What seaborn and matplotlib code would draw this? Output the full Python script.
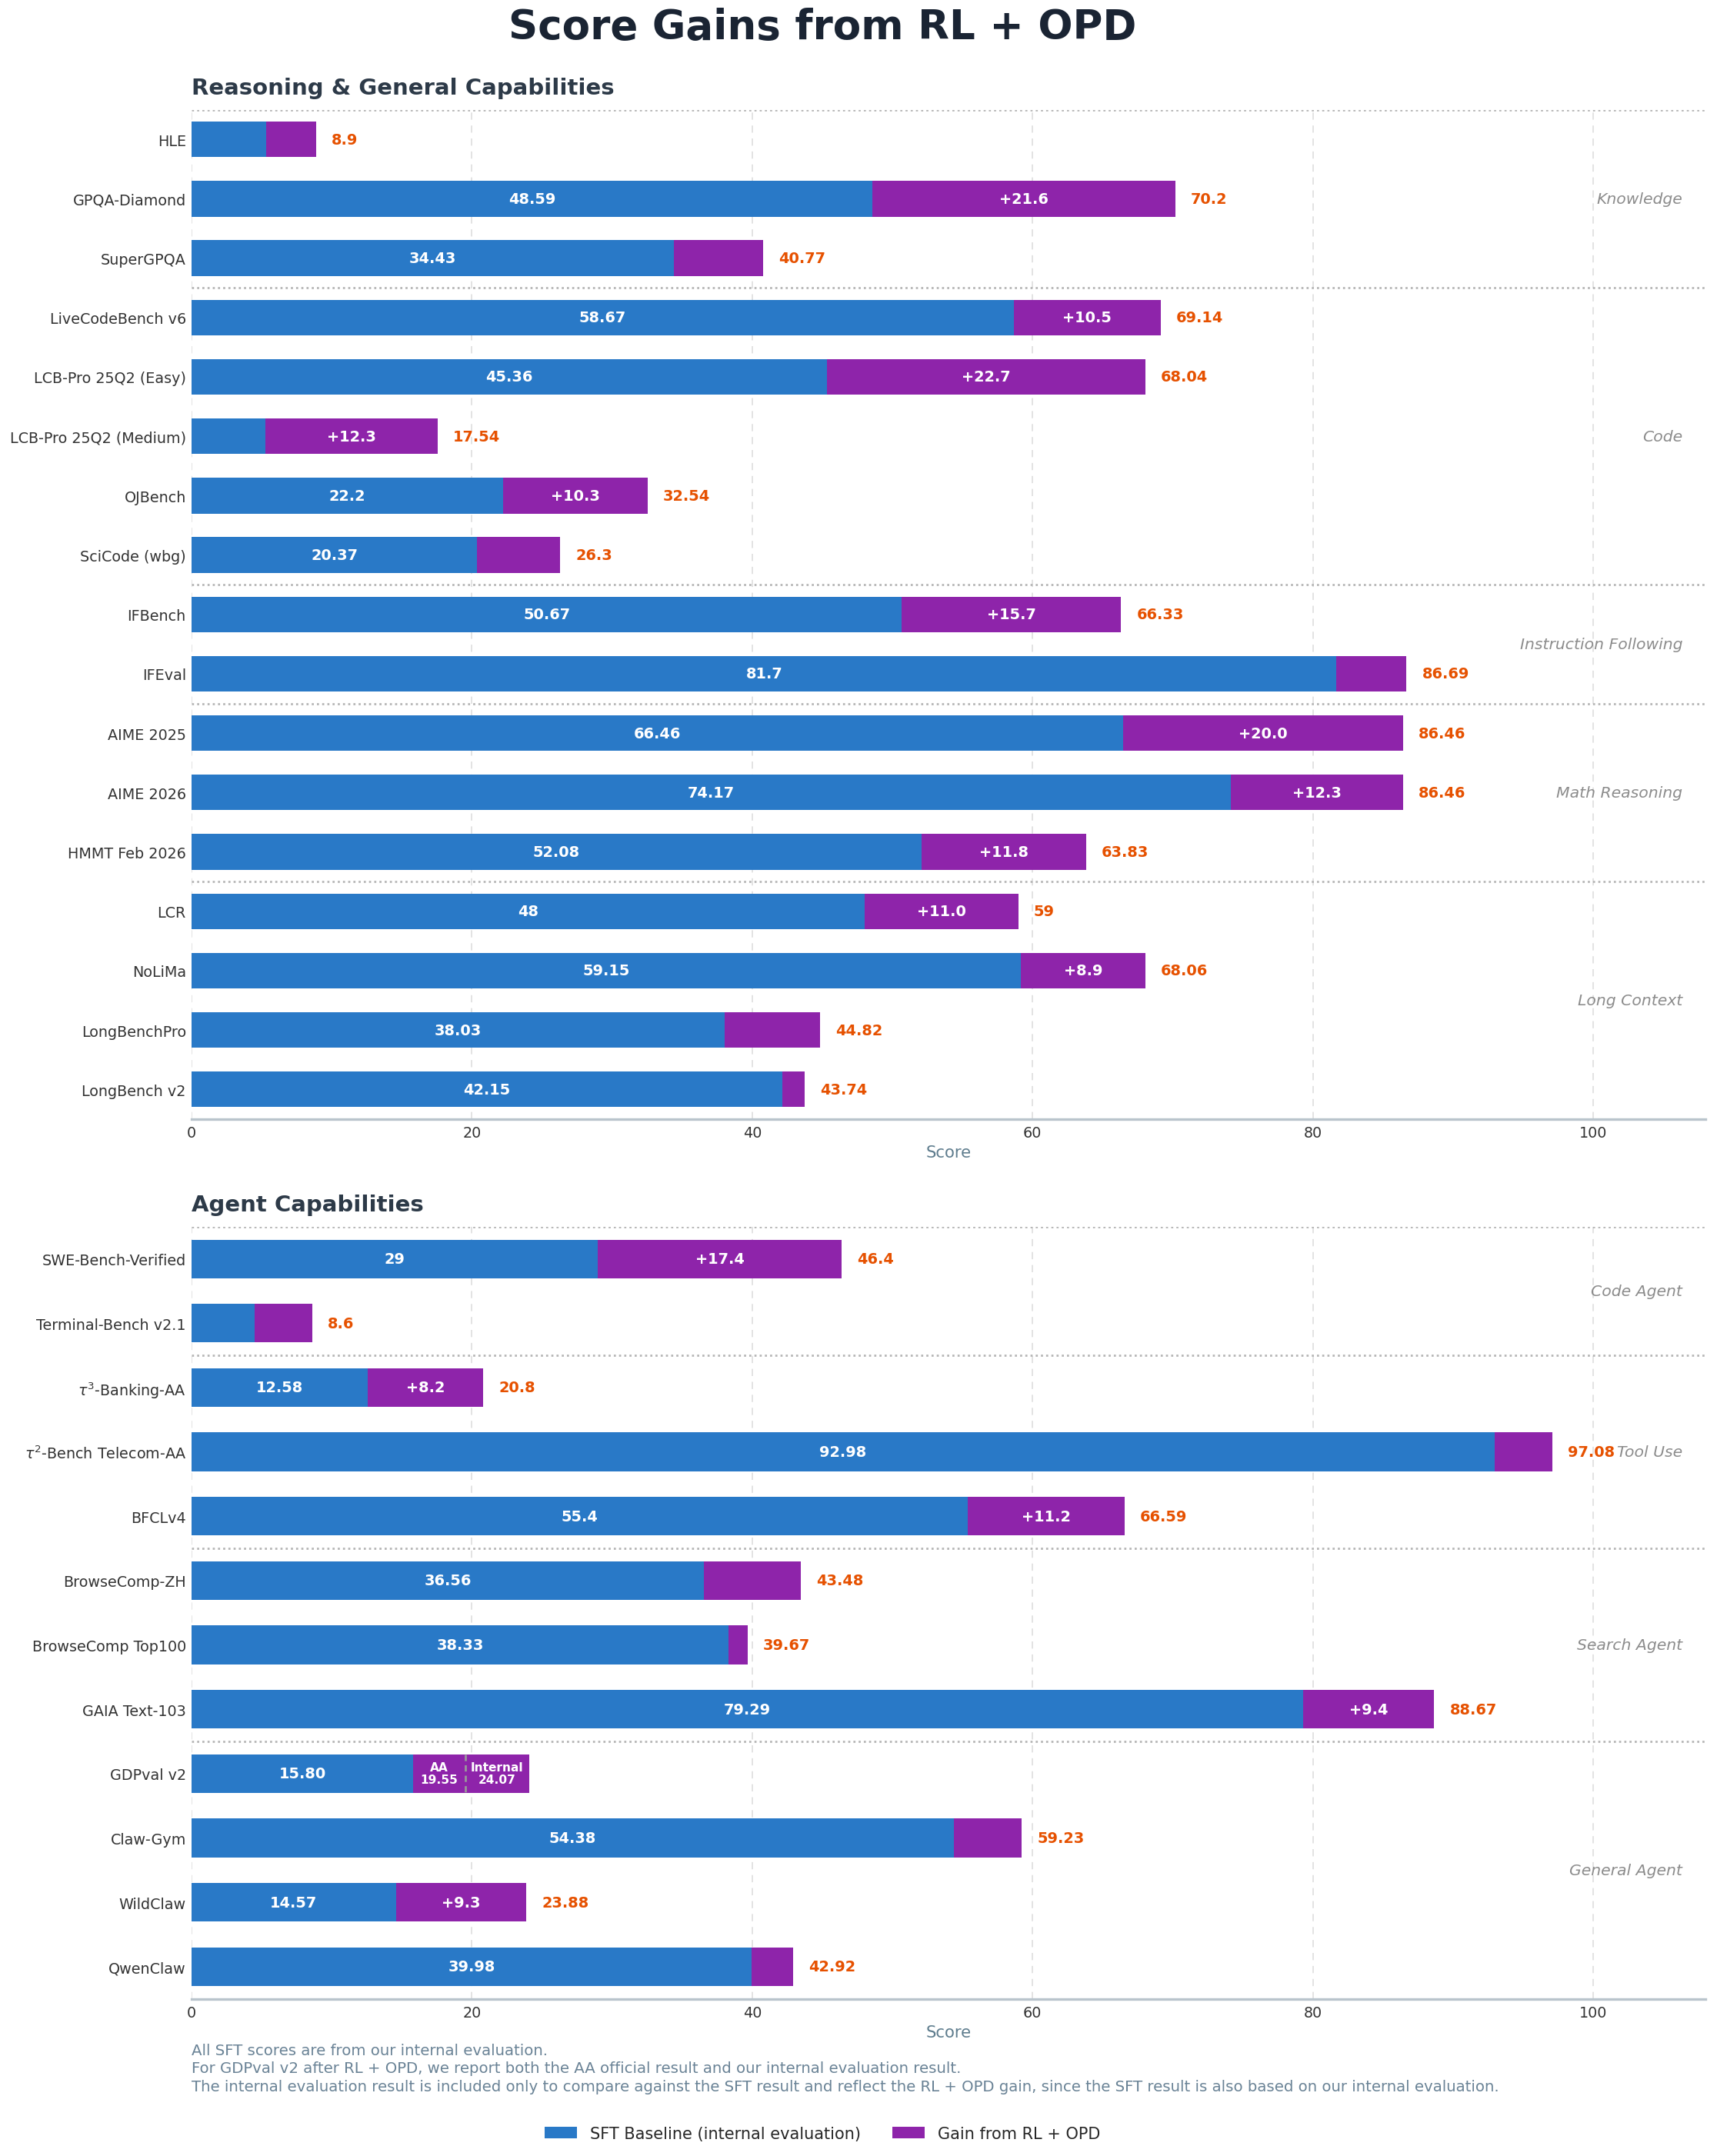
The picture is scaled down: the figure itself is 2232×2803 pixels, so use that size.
import matplotlib
matplotlib.use("Agg")
import matplotlib.pyplot as plt
import matplotlib.transforms as mtransforms
from matplotlib.patches import Patch
import seaborn as sns

sns.set_theme(style="white")
plt.rcParams['font.family'] = ['DejaVu Sans']

# Reasoning & general
reasoning_labels = ["HLE", "GPQA-Diamond", "SuperGPQA", "LiveCodeBench v6", "LCB-Pro 25Q2 (Easy)",
                    "LCB-Pro 25Q2 (Medium)", "OJBench", "SciCode (wbg)", "IFBench", "IFEval",
                    "AIME 2025", "AIME 2026", "HMMT Feb 2026", "LCR", "NoLiMa", "LongBenchPro", "LongBench v2"]
reasoning_sft = [5.3, 48.59, 34.43, 58.67, 45.36, 5.24, 22.2, 20.37, 50.67, 81.7,
                 66.46, 74.17, 52.08, 48, 59.15, 38.03, 42.15]
reasoning_final = [8.9, 70.2, 40.77, 69.14, 68.04, 17.54, 32.54, 26.3, 66.33, 86.69,
                   86.46, 86.46, 63.83, 59, 68.06, 44.82, 43.74]
reasoning_groups = ["Knowledge"] * 3 + ["Code"] * 5 + ["Instruction Following"] * 2 + \
                   ["Math Reasoning"] * 3 + ["Long Context"] * 4

# Agent
agent_labels = ["SWE-Bench-Verified", "Terminal-Bench v2.1", r"$\tau^3$-Banking-AA",
                r"$\tau^2$-Bench Telecom-AA", "BFCLv4", "BrowseComp-ZH", "BrowseComp Top100",
                "GAIA Text-103", "GDPval v2", "Claw-Gym", "WildClaw", "QwenClaw"]
agent_sft = [29, 4.5, 12.58, 92.98, 55.4, 36.56, 38.33, 79.29, 15.80, 54.38, 14.57, 39.98]
agent_final = [46.4, 8.6, 20.8, 97.08, 66.59, 43.48, 39.67, 88.67, 24.07, 59.23, 23.88, 42.92]
agent_groups = ["Code Agent"] * 2 + ["Tool Use"] * 3 + ["Search Agent"] * 3 + ["General Agent"] * 4

gdpval_aa = 19.55
gdpval_internal = 24.07

BLUE = "#2979c7"
PURPLE = "#8e24aa"
ORANGE = "#e65100"
MIN_LABEL = 8

fig = plt.figure(figsize=(14.88, 18.693), dpi=150)


def draw_panel(ax, labels, sft, final, groups, title):
    sns.barplot(x=final, y=labels, orient='h', color=PURPLE, saturation=1, width=0.6,
                linewidth=0, ax=ax, zorder=2)
    sns.barplot(x=sft, y=labels, orient='h', color=BLUE, saturation=1, width=0.6,
                linewidth=0, ax=ax, zorder=3)
    n = len(labels)
    ax.set_xlim(0, 108)
    ax.set_ylim(n - 0.5, -0.5)
    ax.set_xticks([0, 20, 40, 60, 80, 100])
    ax.xaxis.grid(True, linestyle=(0, (5, 4)), color="#e2e2e2", linewidth=0.9, zorder=0)
    ax.set_axisbelow(True)
    for s in ["top", "right", "left"]:
        ax.spines[s].set_visible(False)
    ax.spines["bottom"].set_color("#b9c4cc")
    ax.spines["bottom"].set_linewidth(1.6)
    ax.tick_params(axis="both", length=0, labelsize=9.2, colors="#333333")
    ax.tick_params(axis="x", pad=4)
    ax.set_ylabel("")
    ax.set_xlabel("Score", fontsize=10.2, color="#5f7d8e", labelpad=3)
    ax.set_title(title, loc="left", fontsize=14, fontweight="bold", color="#2d3a48", pad=10)

    for i, (name, b, t) in enumerate(zip(labels, sft, final)):
        gain = round(t - b, 2)
        if name == "GDPval v2":
            ax.text(b / 2, i, "15.80", ha="center", va="center", color="white",
                    fontsize=9.3, fontweight="bold", zorder=5)
            ax.plot([gdpval_aa, gdpval_aa], [i - 0.3, i + 0.3], color="#9a9a9a",
                    linestyle=(0, (3, 2)), linewidth=1.3, zorder=4)
            ax.text((b + gdpval_aa) / 2, i, "AA\n19.55", ha="center", va="center",
                    color="white", fontsize=7.4, fontweight="bold", zorder=5, linespacing=1.1)
            ax.text((gdpval_aa + gdpval_internal) / 2, i, "Internal\n24.07", ha="center",
                    va="center", color="white", fontsize=7.4, fontweight="bold", zorder=5,
                    linespacing=1.1)
            continue
        if b >= MIN_LABEL:
            ax.text(b / 2, i, f"{b:g}", ha="center", va="center", color="white",
                    fontsize=9.3, fontweight="bold", zorder=5)
        if gain >= MIN_LABEL:
            ax.text(b + gain / 2, i, f"+{gain:.1f}", ha="center", va="center", color="white",
                    fontsize=9.3, fontweight="bold", zorder=5)
        ax.text(t + 1.1, i, f"{t:g}", ha="left", va="center", color=ORANGE,
                fontsize=9.3, fontweight="bold", zorder=5)

    # group separators and group names
    trans = mtransforms.blended_transform_factory(ax.transAxes, ax.transData)
    start = 0
    for i in range(1, n + 1):
        if i == n or groups[i] != groups[start]:
            ax.axhline(start - 0.5, color="#b5b5b5", linestyle=(0, (1, 1.5)), linewidth=1.3,
                       zorder=1)
            ax.text(0.985, (start + i - 1) / 2, groups[start], transform=trans, ha="right",
                    va="center", fontsize=9.8, style="italic", color="#8c8c8c", zorder=6)
            start = i


ax1 = fig.add_axes([0.1116, 0.4808, 0.8815, 0.468])
draw_panel(ax1, reasoning_labels, reasoning_sft, reasoning_final, reasoning_groups,
           "Reasoning & General Capabilities")

ax2 = fig.add_axes([0.1116, 0.0729, 0.8815, 0.358])
draw_panel(ax2, agent_labels, agent_sft, agent_final, agent_groups, "Agent Capabilities")

fig.text(0.479, 0.987, "Score Gains from RL + OPD", ha="center", va="center",
         fontsize=25.5, fontweight="bold", color="#1a2433")

fig.text(0.1116, 0.0525,
         "All SFT scores are from our internal evaluation.\n"
         "For GDPval v2 after RL + OPD, we report both the AA official result and our internal evaluation result.\n"
         "The internal evaluation result is included only to compare against the SFT result and reflect the RL + OPD gain, "
         "since the SFT result is also based on our internal evaluation.",
         ha="left", va="top", fontsize=9.5, color="#6a8396", linespacing=1.3)

handles = [Patch(facecolor=BLUE, edgecolor="none", label="SFT Baseline (internal evaluation)"),
           Patch(facecolor=PURPLE, edgecolor="none", label="Gain from RL + OPD")]
fig.legend(handles=handles, loc="center", bbox_to_anchor=(0.479, 0.0105), ncol=2,
           frameon=False, fontsize=10, columnspacing=2.0)

fig.savefig("out.png", dpi=150)
